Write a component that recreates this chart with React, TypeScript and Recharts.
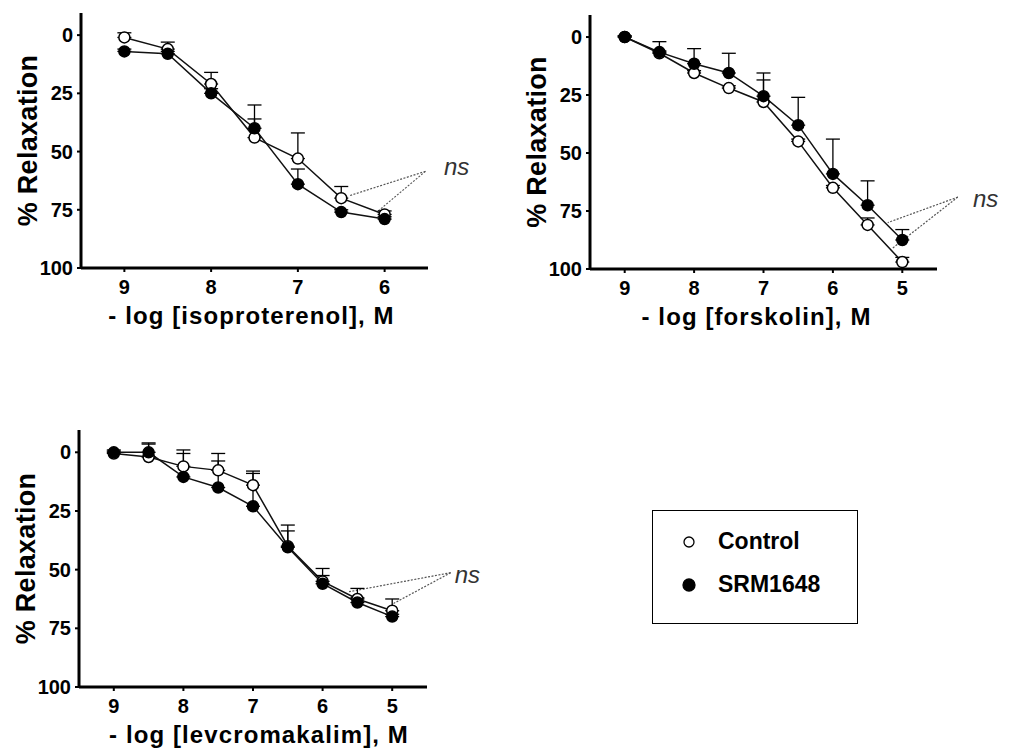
import {
  LineChart,
  Line,
  XAxis,
  YAxis,
  ErrorBar,
  ReferenceLine,
  ReferenceDot,
} from "recharts";

const FONT = '"Liberation Sans", Arial, sans-serif';

// isoproterenol panel
const isoX = [9, 8.5, 8, 7.5, 7, 6.5, 6];
const isoControl = [1, 6, 21, 44, 53, 70, 77];
const isoSrm = [7, 8, 25, 40, 64, 76, 79];
const isoControlErr = [2, 3, 5, 8, 11, 5, 1.5];
const isoSrmErr = [1, 1, 2, 10, 6.5, 1, 1];

// forskolin panel
const forX = [9, 8.5, 8, 7.5, 7, 6.5, 6, 5.5, 5];
const forControl = [0, 7, 15.5, 22, 28, 45, 65, 81, 97];
const forSrm = [0, 6.5, 11.5, 15.5, 25.5, 38, 59, 72.5, 87.5];
const forControlErr = [0.5, 1, 1, 1, 9.5, 1, 1, 3, 2];
const forSrmErr = [0.5, 4.5, 6.5, 8.5, 10, 12, 15, 10.5, 4.5];

// levcromakalim panel
const levX = [9, 8.5, 8, 7.5, 7, 6.5, 6, 5.5, 5];
const levControl = [0.5, 2, 6, 7.7, 14, 40, 55, 62.5, 67.5];
const levSrm = [0, 0, 10.5, 15, 23, 40.5, 56, 64, 70];
const levControlErr = [1, 5.5, 7, 4, 6, 9, 5.5, 4.5, 5];
const levSrmErr = [1, 4, 10, 14.5, 14, 7, 3.5, 2, 1];

const yTicks = [0, 25, 50, 75, 100];

const legendItems = [
  { label: "Control", fill: "#fff", r: 5 },
  { label: "SRM1648", fill: "#000", r: 6 },
];

const buildRows = (x: number[], c: number[], s: number[], ce: number[], se: number[]) =>
  x.map((v, i) => ({
    x: v,
    ctrl: c[i],
    srm: s[i],
    ctrlErr: [ce[i], 0],
    srmErr: [se[i], 0],
  }));

type Pt = { x: number; y: number };

function Panel(props: any) {
  const { plotLeft, plotTop, plotW, plotH, xDomain, xTicks, data, xLabel, xLabelDx, nsFrom, nsTo, nsAt } = props;
  const yW = 108;
  const xH = 98;
  const right = 80;
  const top = 10;
  const width = yW + plotW + right;
  const height = top + plotH + xH;
  const tick = { fill: "#000", fontSize: 20, fontWeight: "bold", fontFamily: FONT };

  return (
    <div style={{ position: "absolute", left: plotLeft - yW, top: plotTop - top }}>
      <LineChart width={width} height={height} data={data} margin={{ top, right, bottom: 0, left: 0 }}>
        <XAxis
          type="number"
          dataKey="x"
          domain={xDomain}
          ticks={xTicks}
          interval={0}
          reversed
          allowDataOverflow
          height={xH}
          tick={tick}
          tickSize={4}
          tickMargin={8}
          tickLine={{ stroke: "#000", strokeWidth: 2 }}
          axisLine={{ stroke: "#000", strokeWidth: 3 }}
          label={{
            value: xLabel,
            position: "center",
            dx: xLabelDx,
            dy: -2,
            style: { fill: "#000", fontSize: 24, fontWeight: "bold", fontFamily: FONT, letterSpacing: 1.1 },
          }}
        />
        <YAxis
          type="number"
          domain={[-9.5, 100]}
          ticks={yTicks}
          interval={0}
          reversed
          allowDataOverflow
          width={yW}
          tick={tick}
          tickSize={4}
          tickMargin={4}
          tickLine={{ stroke: "#000", strokeWidth: 2 }}
          axisLine={{ stroke: "#000", strokeWidth: 3 }}
          label={{
            value: "% Relaxation",
            angle: -90,
            position: "center",
            style: { fill: "#000", fontSize: 27, fontWeight: "bold", fontFamily: FONT, letterSpacing: 0.3 },
          }}
        />

        {nsTo.map((p: Pt, i: number) => (
          <ReferenceLine
            key={i}
            segment={[nsFrom, p]}
            stroke="#555"
            strokeWidth={1.2}
            strokeDasharray="2 1.5"
            ifOverflow="visible"
          />
        ))}

        <Line
          dataKey="ctrl"
          name="Control"
          stroke="#111"
          strokeWidth={1.5}
          dot={{ r: 5.5, fill: "#fff", stroke: "#000", strokeWidth: 1.5 }}
          isAnimationActive={false}
        >
          <ErrorBar dataKey="ctrlErr" direction="y" width={7} stroke="#000" strokeWidth={1.3} />
        </Line>
        <Line
          dataKey="srm"
          name="SRM1648"
          stroke="#111"
          strokeWidth={1.5}
          dot={{ r: 5.5, fill: "#000", stroke: "#000", strokeWidth: 1.5 }}
          isAnimationActive={false}
        >
          <ErrorBar dataKey="srmErr" direction="y" width={7} stroke="#000" strokeWidth={1.3} />
        </Line>

        <ReferenceDot
          x={nsAt.x}
          y={nsAt.y}
          r={1}
          fill="none"
          stroke="none"
          ifOverflow="visible"
          label={{
            value: "ns",
            position: "center",
            style: { fill: "#333", fontSize: 24, fontStyle: "italic", fontFamily: FONT },
          }}
        />
      </LineChart>
    </div>
  );
}

export default function App() {
  return (
    <div style={{ position: "absolute", left: 0, top: 0, width: 1009, height: 751, overflow: "hidden", background: "#fff" }}>
      <Panel
        plotLeft={81}
        plotTop={13}
        plotW={347}
        plotH={255}
        xDomain={[5.5, 9.5]}
        xTicks={[9, 8, 7, 6]}
        data={buildRows(isoX, isoControl, isoSrm, isoControlErr, isoSrmErr)}
        xLabel="- log [isoproterenol], M"
        xLabelDx={-3}
        nsFrom={{ x: 5.53, y: 58.5 }}
        nsTo={[{ x: 6.41, y: 69 }, { x: 6.09, y: 76 }]}
        nsAt={{ x: 5.17, y: 56.4 }}
      />
      <Panel
        plotLeft={590}
        plotTop={15}
        plotW={347}
        plotH={254}
        xDomain={[4.5, 9.5]}
        xTicks={[9, 8, 7, 6, 5]}
        data={buildRows(forX, forControl, forSrm, forControlErr, forSrmErr)}
        xLabel="- log [forskolin], M"
        xLabelDx={-7}
        nsFrom={{ x: 4.2, y: 69 }}
        nsTo={[{ x: 5.21, y: 80 }, { x: 5.14, y: 91 }]}
        nsAt={{ x: 3.8, y: 69.7 }}
      />
      <Panel
        plotLeft={79}
        plotTop={430}
        plotW={348}
        plotH={257}
        xDomain={[4.5, 9.5]}
        xTicks={[9, 8, 7, 6, 5]}
        data={buildRows(levX, levControl, levSrm, levControlErr, levSrmErr)}
        xLabel="- log [levcromakalim], M"
        xLabelDx={6}
        nsFrom={{ x: 4.16, y: 51.3 }}
        nsTo={[{ x: 5.62, y: 59.4 }, { x: 4.98, y: 64.4 }]}
        nsAt={{ x: 3.92, y: 52 }}
      />

      {/* legend box */}
      <div
        style={{
          position: "absolute",
          left: 652,
          top: 510,
          width: 204,
          height: 112,
          border: "1.5px solid #000",
          fontFamily: FONT,
          fontWeight: "bold",
          fontSize: 23,
        }}
      >
        {legendItems.map((it, i) => (
          <div key={it.label} style={{ position: "absolute", left: 28, top: 17 + i * 43, display: "flex", alignItems: "center" }}>
            <svg width={16} height={16}>
              <circle cx={8} cy={8} r={it.r} fill={it.fill} stroke="#000" strokeWidth={1.3} />
            </svg>
            <span style={{ marginLeft: 21 }}>{it.label}</span>
          </div>
        ))}
      </div>
    </div>
  );
}
